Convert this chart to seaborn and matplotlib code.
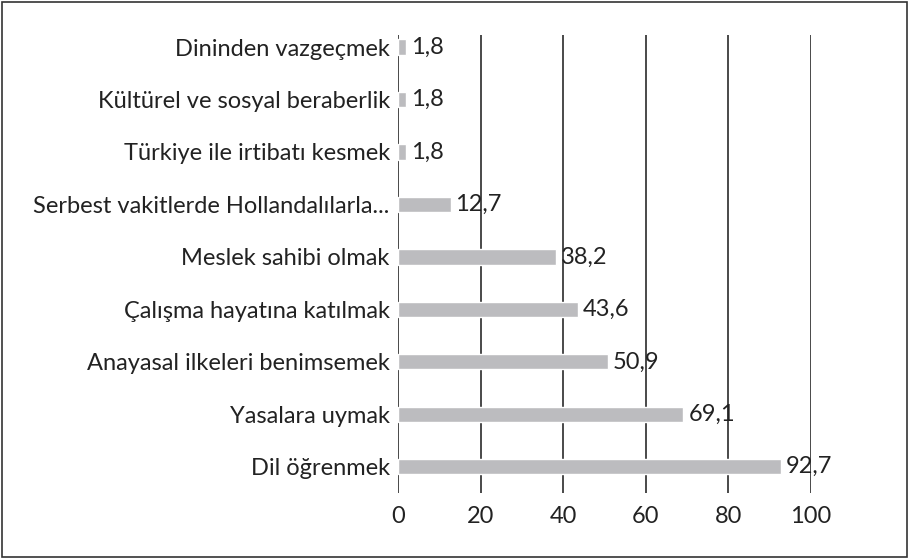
import matplotlib
matplotlib.use("Agg")
import matplotlib.pyplot as plt
import seaborn as sns
import pandas as pd

# chart data (top to bottom)
categories = [
    "Dininden vazgeçmek",
    "Kültürel ve sosyal beraberlik",
    "Türkiye ile irtibatı kesmek",
    "Serbest vakitlerde Hollandalılarla...",
    "Meslek sahibi olmak",
    "Çalışma hayatına katılmak",
    "Anayasal ilkeleri benimsemek",
    "Yasalara uymak",
    "Dil öğrenmek",
]
values = [1.8, 1.8, 1.8, 12.7, 38.2, 43.6, 50.9, 69.1, 92.7]
value_labels = ["1,8", "1,8", "1,8", "12,7", "38,2", "43,6", "50,9", "69,1", "92,7"]
x_ticks = [0, 20, 40, 60, 80, 100]

BAR_COLOR = "#bcbcbf"
GRID_COLOR = "#3a3a3a"
TEXT_COLOR = "#222222"
FS = 17

sns.set_style("white")
plt.rcParams["font.family"] = ["Lato", "DejaVu Sans"]

df = pd.DataFrame({"category": categories, "value": values})

fig = plt.figure(figsize=(9.09, 5.6), dpi=100)
ax = fig.add_axes([0.438, 0.1196, 0.454, 0.818])

sns.barplot(data=df, y="category", x="value", orient="h", color=BAR_COLOR,
            width=0.29, saturation=1, ax=ax, zorder=3)

# value labels next to bars
for i, (v, lab) in enumerate(zip(values, value_labels)):
    ax.text(v + 1.2, i, lab, va="center", ha="left", fontsize=FS,
            color=TEXT_COLOR, zorder=4)

ax.set_xlim(0, 100)
ax.set_ylim(8.5, -0.23)
ax.set_xticks(x_ticks)
ax.set_xticklabels([str(t) for t in x_ticks])
ax.set_xlabel("")
ax.set_ylabel("")

for t in x_ticks:
    ax.axvline(t, color=GRID_COLOR, lw=1.3, zorder=1)

for s in ax.spines.values():
    s.set_visible(False)

ax.tick_params(axis="x", length=0, pad=9, labelsize=FS, labelcolor=TEXT_COLOR)
ax.tick_params(axis="y", length=0, pad=6, labelsize=FS, labelcolor=TEXT_COLOR)

# outer frame around figure
fig.patches.append(plt.Rectangle((0.002, 0.006), 0.996, 0.99, transform=fig.transFigure,
                                 fill=False, edgecolor="#333333", lw=1.2))

fig.savefig("out.png", dpi=100)
